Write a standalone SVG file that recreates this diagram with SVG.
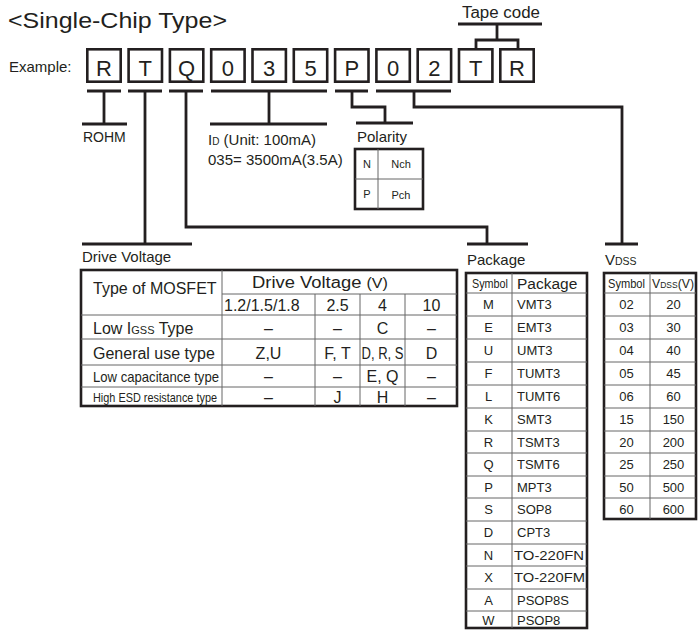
<svg xmlns="http://www.w3.org/2000/svg" width="699" height="634" viewBox="0 0 699 634">
<style>
text{font-family:"Liberation Sans",Arial,sans-serif;fill:#231f20}
.conn line,.conn polyline{stroke:#231f20;stroke-width:2.8;fill:none;stroke-linecap:butt}
.box{fill:#fff;stroke:#231f20;stroke-width:2.6}
.ch{font-size:22px;text-anchor:middle}
.lbl{font-size:15px}
.outer{fill:#fff;stroke:#231f20;stroke-width:2.6}
.inner{stroke:#666;stroke-width:1;fill:none}
.t16{font-size:16px}
.t13{font-size:13px}
.c{text-anchor:middle}
</style>
<rect width="699" height="634" fill="#fff"/>
<g id="title"><text x="8" y="28" font-size="22" textLength="219" lengthAdjust="spacingAndGlyphs">&lt;Single-Chip Type&gt;</text></g>
<g id="example"><text x="9" y="72" class="lbl">Example:</text></g>
<g id="chars">
<rect class="box" x="87.3" y="49.3" width="33.4" height="32.4"/><text class="ch" x="104" y="76">R</text>
<rect class="box" x="128.6" y="49.3" width="33.4" height="32.4"/><text class="ch" x="145.3" y="76">T</text>
<rect class="box" x="169.9" y="49.3" width="33.4" height="32.4"/><text class="ch" x="186.6" y="76">Q</text>
<rect class="box" x="211.2" y="49.3" width="33.4" height="32.4"/><text class="ch" x="227.9" y="76">0</text>
<rect class="box" x="252.5" y="49.3" width="33.4" height="32.4"/><text class="ch" x="269.2" y="76">3</text>
<rect class="box" x="293.8" y="49.3" width="33.4" height="32.4"/><text class="ch" x="310.5" y="76">5</text>
<rect class="box" x="335.1" y="49.3" width="33.4" height="32.4"/><text class="ch" x="351.8" y="76">P</text>
<rect class="box" x="376.4" y="49.3" width="33.4" height="32.4"/><text class="ch" x="393.1" y="76">0</text>
<rect class="box" x="417.7" y="49.3" width="33.4" height="32.4"/><text class="ch" x="434.4" y="76">2</text>
<rect class="box" x="459" y="49.3" width="33.4" height="32.4"/><text class="ch" x="475.7" y="76">T</text>
<rect class="box" x="500.3" y="49.3" width="33.4" height="32.4"/><text class="ch" x="517" y="76">R</text>
</g>
<g class="conn" id="connectors">
<line x1="87" y1="91" x2="121" y2="91"/>
<line x1="128" y1="91" x2="162" y2="91"/>
<line x1="169" y1="91" x2="203" y2="91"/>
<line x1="211" y1="91" x2="327" y2="91"/>
<line x1="335" y1="91" x2="368" y2="91"/>
<line x1="376" y1="91" x2="451" y2="91"/>
<line x1="104" y1="91" x2="104" y2="124"/>
<line x1="82" y1="124" x2="127" y2="124"/>
<line x1="145" y1="91" x2="145" y2="244"/>
<line x1="82" y1="244" x2="192" y2="244"/>
<polyline points="186,91 186,227 487,227 487,244"/>
<line x1="467" y1="244" x2="528" y2="244"/>
<line x1="269" y1="91" x2="269" y2="124"/>
<line x1="210" y1="124" x2="327" y2="124"/>
<polyline points="352,91 352,107 385,107 385,123"/>
<line x1="356" y1="123" x2="413" y2="123"/>
<polyline points="414,91 414,107 622,107 622,244"/>
<line x1="605" y1="244" x2="638" y2="244"/>
<line x1="458" y1="24" x2="542" y2="24"/>
<line x1="497" y1="24" x2="497" y2="40"/>
<polyline points="476,48 476,40 518,40 518,48"/>
</g>
<g id="tape"><text x="462" y="18" font-size="16" textLength="78" lengthAdjust="spacingAndGlyphs">Tape code</text></g>
<g id="rohm"><text x="83" y="142" font-size="14">ROHM</text></g>
<g id="current">
<text x="208" y="145" class="lbl">I<tspan font-size="10">D</tspan> (Unit: 100mA)</text>
<text x="208" y="165" class="lbl">035= 3500mA(3.5A)</text>
</g>
<g id="polarity">
<text x="357" y="142" class="lbl">Polarity</text>
<rect class="outer" x="355" y="149" width="68" height="60"/>
<line class="inner" x1="378" y1="149" x2="378" y2="209"/>
<line class="inner" x1="355" y1="179" x2="423" y2="179"/>
<text x="367" y="168" font-size="11" class="c">N</text>
<text x="401" y="168" font-size="11" class="c">Nch</text>
<text x="367" y="198" font-size="11" class="c">P</text>
<text x="401" y="199" font-size="11" class="c">Pch</text>
</g>
<g id="drive-voltage">
<text x="82" y="262" class="lbl">Drive Voltage</text>
<rect class="outer" x="81" y="270" width="376" height="136"/>
<line class="inner" x1="222" y1="270" x2="222" y2="406"/>
<line class="inner" x1="222" y1="294" x2="457" y2="294"/>
<line class="inner" x1="315" y1="294" x2="315" y2="406"/>
<line class="inner" x1="360" y1="294" x2="360" y2="406"/>
<line class="inner" x1="405" y1="294" x2="405" y2="406"/>
<line class="inner" x1="81" y1="315" x2="457" y2="315"/>
<line class="inner" x1="81" y1="339" x2="457" y2="339"/>
<line class="inner" x1="81" y1="365" x2="457" y2="365"/>
<line class="inner" x1="81" y1="387" x2="457" y2="387"/>
<text x="93" y="294" class="t16">Type of MOSFET</text>
<text x="252" y="288" class="t16" textLength="136" lengthAdjust="spacingAndGlyphs">Drive Voltage <tspan font-size="14">(V)</tspan></text>
<text x="224" y="311" class="t16">1.2/1.5/1.8</text>
<text x="337.5" y="311" class="t16 c">2.5</text>
<text x="382.5" y="311" class="t16 c">4</text>
<text x="431.5" y="311" class="t16 c">10</text>
<text x="93" y="334" class="t16">Low I<tspan font-size="11">GSS</tspan> Type</text>
<text x="268.5" y="334" class="t16 c">–</text>
<text x="337.5" y="334" class="t16 c">–</text>
<text x="382.5" y="334" class="t16 c">C</text>
<text x="431.5" y="334" class="t16 c">–</text>
<text x="93" y="359" class="t16">General use type</text>
<text x="268.5" y="359" class="t16 c">Z,U</text>
<text x="337.5" y="359" class="t16 c">F, T</text>
<text x="361.5" y="359" class="t16" textLength="42" lengthAdjust="spacingAndGlyphs">D, R, S</text>
<text x="431.5" y="359" class="t16 c">D</text>
<text x="93" y="382" font-size="14.5" textLength="126" lengthAdjust="spacingAndGlyphs">Low capacitance type</text>
<text x="268.5" y="382" class="t16 c">–</text>
<text x="337.5" y="382" class="t16 c">–</text>
<text x="382.5" y="382" class="t16 c">E, Q</text>
<text x="431.5" y="382" class="t16 c">–</text>
<text x="93" y="402" font-size="13" textLength="124" lengthAdjust="spacingAndGlyphs">High ESD resistance type</text>
<text x="268.5" y="403" class="t16 c">–</text>
<text x="337.5" y="403" class="t16 c">J</text>
<text x="382.5" y="403" class="t16 c">H</text>
<text x="431.5" y="403" class="t16 c">–</text>
</g>
<g id="package">
<text x="467" y="265" class="lbl">Package</text>
<rect class="outer" x="466" y="273" width="121" height="355"/>
<line class="inner" x1="512" y1="273" x2="512" y2="628"/>
<g class="inner">
<line x1="466" y1="293" x2="587" y2="293"/><line x1="466" y1="316" x2="587" y2="316"/><line x1="466" y1="339" x2="587" y2="339"/><line x1="466" y1="362" x2="587" y2="362"/><line x1="466" y1="385" x2="587" y2="385"/><line x1="466" y1="408" x2="587" y2="408"/><line x1="466" y1="431" x2="587" y2="431"/><line x1="466" y1="453" x2="587" y2="453"/><line x1="466" y1="476" x2="587" y2="476"/><line x1="466" y1="498" x2="587" y2="498"/><line x1="466" y1="521" x2="587" y2="521"/><line x1="466" y1="544" x2="587" y2="544"/><line x1="466" y1="566" x2="587" y2="566"/><line x1="466" y1="589" x2="587" y2="589"/><line x1="466" y1="611" x2="587" y2="611"/>
</g>
<text x="472" y="288" font-size="12" textLength="36" lengthAdjust="spacingAndGlyphs">Symbol</text>
<text x="517" y="289" font-size="15.5">Package</text>
<g class="t13">
<text x="488.5" y="309" class="c">M</text><text x="517" y="309">VMT3</text>
<text x="488.5" y="332" class="c">E</text><text x="517" y="332">EMT3</text>
<text x="488.5" y="355" class="c">U</text><text x="517" y="355">UMT3</text>
<text x="488.5" y="378" class="c">F</text><text x="517" y="378">TUMT3</text>
<text x="488.5" y="401" class="c">L</text><text x="517" y="401">TUMT6</text>
<text x="488.5" y="424" class="c">K</text><text x="517" y="424">SMT3</text>
<text x="488.5" y="446.5" class="c">R</text><text x="517" y="446.5">TSMT3</text>
<text x="488.5" y="469" class="c">Q</text><text x="517" y="469">TSMT6</text>
<text x="488.5" y="491.5" class="c">P</text><text x="517" y="491.5">MPT3</text>
<text x="488.5" y="514" class="c">S</text><text x="517" y="514">SOP8</text>
<text x="488.5" y="537" class="c">D</text><text x="517" y="537">CPT3</text>
<text x="488.5" y="559.5" class="c">N</text><text x="514" y="559.5" textLength="70" lengthAdjust="spacingAndGlyphs">TO-220FN</text>
<text x="488.5" y="582" class="c">X</text><text x="514" y="582" textLength="71" lengthAdjust="spacingAndGlyphs">TO-220FM</text>
<text x="488.5" y="604.5" class="c">A</text><text x="517" y="604.5">PSOP8S</text>
<text x="488.5" y="624.5" class="c">W</text><text x="517" y="624.5">PSOP8</text>
</g>
</g>
<g id="vdss">
<text x="605" y="265" class="lbl">V<tspan font-size="10.5">DSS</tspan></text>
<rect class="outer" x="604" y="273" width="92" height="246"/>
<line class="inner" x1="650" y1="273" x2="650" y2="519"/>
<g class="inner">
<line x1="604" y1="293" x2="696" y2="293"/><line x1="604" y1="316" x2="696" y2="316"/><line x1="604" y1="339" x2="696" y2="339"/><line x1="604" y1="362" x2="696" y2="362"/><line x1="604" y1="385" x2="696" y2="385"/><line x1="604" y1="408" x2="696" y2="408"/><line x1="604" y1="431" x2="696" y2="431"/><line x1="604" y1="453" x2="696" y2="453"/><line x1="604" y1="476" x2="696" y2="476"/><line x1="604" y1="498" x2="696" y2="498"/>
</g>
<text x="608" y="288" font-size="12" textLength="37" lengthAdjust="spacingAndGlyphs">Symbol</text>
<text x="652" y="288" font-size="13" textLength="42" lengthAdjust="spacingAndGlyphs">V<tspan font-size="9">DSS</tspan>(V)</text>
<g class="t13 c">
<text x="626.5" y="309" class="c">02</text><text x="673.5" y="309" class="c">20</text>
<text x="626.5" y="332" class="c">03</text><text x="673.5" y="332" class="c">30</text>
<text x="626.5" y="355" class="c">04</text><text x="673.5" y="355" class="c">40</text>
<text x="626.5" y="378" class="c">05</text><text x="673.5" y="378" class="c">45</text>
<text x="626.5" y="401" class="c">06</text><text x="673.5" y="401" class="c">60</text>
<text x="626.5" y="424" class="c">15</text><text x="673.5" y="424" class="c">150</text>
<text x="626.5" y="446.5" class="c">20</text><text x="673.5" y="446.5" class="c">200</text>
<text x="626.5" y="469" class="c">25</text><text x="673.5" y="469" class="c">250</text>
<text x="626.5" y="491.5" class="c">50</text><text x="673.5" y="491.5" class="c">500</text>
<text x="626.5" y="513.5" class="c">60</text><text x="673.5" y="513.5" class="c">600</text>
</g>
</g>
</svg>
